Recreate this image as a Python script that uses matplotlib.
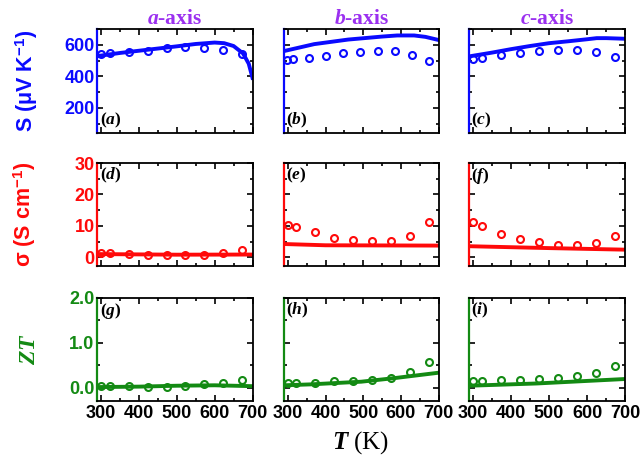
import numpy as np
import matplotlib
matplotlib.use("Agg")
import matplotlib.pyplot as plt
from matplotlib.ticker import MultipleLocator

# measured points (temperature in K)
t_exp = [300, 323, 373, 423, 473, 523, 573, 623, 673]
t_exp_b = [298, 314, 356, 401, 446, 491, 539, 584, 630, 675]

s_exp_a = [540, 545, 552, 562, 577, 585, 581, 568, 543]
s_exp_b = [505, 507, 518, 530, 545, 557, 559, 559, 538, 496]
s_exp_c = [512, 516, 533, 547, 562, 568, 566, 552, 522]

sig_exp_a = [1.4, 1.4, 1.1, 0.85, 0.6, 0.6, 0.85, 1.4, 2.2]
sig_exp_b = [10.3, 9.5, 7.9, 6.1, 5.6, 5.05, 5.3, 6.9, 11.3]
sig_exp_c = [11.2, 10.0, 7.5, 5.9, 4.7, 3.8, 4.0, 4.5, 6.8]

zt_exp_a = [0.03, 0.03, 0.03, 0.015, 0.015, 0.04, 0.07, 0.11, 0.16]
zt_exp_b = [0.10, 0.11, 0.11, 0.14, 0.15, 0.16, 0.21, 0.35, 0.57]
zt_exp_c = [0.14, 0.15, 0.16, 0.16, 0.19, 0.21, 0.26, 0.33, 0.48]

# calculated curves
t_calc_s_a = [290, 350, 400, 450, 500, 550, 600, 625, 650, 675, 690, 700]
s_calc_a = [528, 548, 562, 576, 590, 605, 614, 610, 592, 545, 480, 390]
t_calc_s_b = [290, 370, 460, 550, 590, 635, 665, 700]
s_calc_b = [560, 604, 633, 652, 659, 659, 650, 630]
t_calc_s_c = [290, 350, 400, 450, 500, 550, 600, 625, 650, 700]
s_calc_c = [526, 550, 572, 592, 610, 622, 635, 642, 642, 638]

t_calc_sig_a = [290, 500, 700]
sig_calc_a = [1.0, 0.8, 0.85]
t_calc_sig_b = [290, 400, 700]
sig_calc_b = [4.2, 3.8, 3.7]
t_calc_sig_c = [290, 500, 700]
sig_calc_c = [3.5, 2.9, 2.4]

t_calc_zt_a = [290, 400, 500, 600, 700]
zt_calc_a = [0.01, 0.02, 0.04, 0.05, 0.03]
t_calc_zt_b = [290, 360, 495, 583, 700]
zt_calc_b = [0.05, 0.07, 0.13, 0.21, 0.33]
t_calc_zt_c = [290, 467, 700]
zt_calc_c = [0.04, 0.09, 0.19]

titles = [r"$\mathit{a}$-axis", r"$\mathit{b}$-axis", r"$\mathit{c}$-axis"]
panel_tags = ["a", "b", "c", "d", "e", "f", "g", "h", "i"]


def main():
    plt.rcParams["mathtext.fontset"] = "custom"
    plt.rcParams["mathtext.rm"] = "Liberation Serif:bold"
    plt.rcParams["mathtext.it"] = "Liberation Serif:italic:bold"
    plt.rcParams["mathtext.sf"] = "Liberation Sans:bold"

    blue = "#0a0aff"
    red = "#ff0a0a"
    green = "#138a13"
    purple = "#9b30f0"

    rows = [
        dict(color=blue, ylim=(40, 700), minor=100, fmt="{:.0f}",
             ticks=[200, 400, 600],
             exp=[(t_exp, s_exp_a), (t_exp_b, s_exp_b), (t_exp, s_exp_c)],
             calc=[(t_calc_s_a, s_calc_a), (t_calc_s_b, s_calc_b), (t_calc_s_c, s_calc_c)]),
        dict(color=red, ylim=(-2.8, 30), minor=5, fmt="{:.0f}",
             ticks=[0, 10, 20, 30],
             exp=[(t_exp, sig_exp_a), (t_exp, sig_exp_b), (t_exp, sig_exp_c)],
             calc=[(t_calc_sig_a, sig_calc_a), (t_calc_sig_b, sig_calc_b), (t_calc_sig_c, sig_calc_c)]),
        dict(color=green, ylim=(-0.3, 2.0), minor=0.5, fmt="{:.1f}",
             ticks=[0.0, 1.0, 2.0],
             exp=[(t_exp, zt_exp_a), (t_exp, zt_exp_b), (t_exp, zt_exp_c)],
             calc=[(t_calc_zt_a, zt_calc_a), (t_calc_zt_b, zt_calc_b), (t_calc_zt_c, zt_calc_c)]),
    ]

    fig = plt.figure(figsize=(6.41, 4.66), dpi=100)

    # axes boxes in pixels (left, right) and (top, bottom)
    cols_px = [(97.3, 252.5), (284.0, 438.7), (469.0, 625.3)]
    rows_px = [(29.0, 133.0), (163.0, 266.0), (297.7, 401.0)]
    W, H = 641.0, 466.0

    axes_first = []
    for r, row in enumerate(rows):
        for c in range(3):
            x0, x1 = cols_px[c]
            y0, y1 = rows_px[r]
            ax = fig.add_axes([x0 / W, 1 - y1 / H, (x1 - x0) / W, (y1 - y0) / H])

            # measured points and calculated curve
            tx, ty = row["exp"][c]
            ax.plot(tx, ty, "o", mfc="none", mec=row["color"], ms=5, mew=1.5,
                    clip_on=False, zorder=3)
            lx, ly = row["calc"][c]
            ax.plot(lx, ly, "-", color=row["color"], lw=2.8, zorder=2)

            ax.set_xlim(290, 700)
            ax.set_ylim(*row["ylim"])
            ax.xaxis.set_major_locator(MultipleLocator(100))
            ax.xaxis.set_minor_locator(MultipleLocator(50))
            ax.set_yticks(row["ticks"])
            ax.yaxis.set_minor_locator(MultipleLocator(row["minor"]))

            ax.tick_params(which="both", direction="in", top=True, right=True,
                           width=1.2)
            ax.tick_params(which="major", length=4)
            ax.tick_params(which="minor", length=2)
            for side in ["top", "right", "bottom"]:
                ax.spines[side].set_linewidth(1.3)
                ax.spines[side].set_color("black")
            ax.spines["left"].set_linewidth(1.6)
            ax.spines["left"].set_color(row["color"])

            # colour left ticks only
            ax.tick_params(axis="y", which="both", left=True, labelleft=(c == 0))
            for tl in ax.yaxis.get_majorticklines()[0::2]:
                tl.set_color(row["color"])
            for tl in ax.yaxis.get_minorticklines()[0::2]:
                tl.set_color(row["color"])

            if c == 0:
                ax.set_yticklabels([row["fmt"].format(v) for v in row["ticks"]],
                                   color=row["color"], fontsize=13,
                                   fontweight="bold", family="Liberation Sans")
                ax.tick_params(axis="y", pad=2)
                axes_first.append(ax)

            if r == 2:
                ax.set_xticks([300, 400, 500, 600, 700])
                ax.set_xticklabels(["300", "400", "500", "600", "700"],
                                   fontsize=13, fontweight="bold",
                                   family="Liberation Sans")
                ax.tick_params(axis="x", pad=3)
            else:
                ax.tick_params(axis="x", labelbottom=False)

            if r == 0:
                ax.set_title(titles[c], color=purple, fontsize=15.5,
                             fontweight="bold", family="Liberation Serif", pad=3)

            tag = r"($\mathit{" + panel_tags[r * 3 + c] + r"}$)"
            ty_pos = 0.03 if r == 0 else 0.97
            va = "bottom" if r == 0 else "top"
            ax.text(0.015, ty_pos, tag, transform=ax.transAxes, fontsize=12.5,
                    fontweight="bold", family="Liberation Serif", va=va, ha="left")

    # y labels
    axes_first[0].set_ylabel(r"S ($\mathsf{\mu}$V K$^{\mathsf{-1}}$)", color=blue,
                             fontsize=15.5, fontweight="bold", family="Liberation Sans")
    axes_first[0].yaxis.set_label_coords(-0.37, 0.5)
    axes_first[1].set_ylabel(r"σ (S cm$^{\mathsf{-1}}$)", color=red,
                             fontsize=15.5, fontweight="bold", family="Liberation Sans")
    axes_first[1].yaxis.set_label_coords(-0.38, 0.5)
    axes_first[2].set_ylabel(r"$\mathit{ZT}$", color=green,
                             fontsize=17, family="Liberation Serif")
    axes_first[2].yaxis.set_label_coords(-0.37, 0.5)

    fig.text(361 / W, 1 - 443 / H, r"$\mathit{T}$ (K)", fontsize=18,
             family="Liberation Serif", ha="center", va="center")

    fig.savefig("out.png", dpi=100)


if __name__ == "__main__":
    main()
